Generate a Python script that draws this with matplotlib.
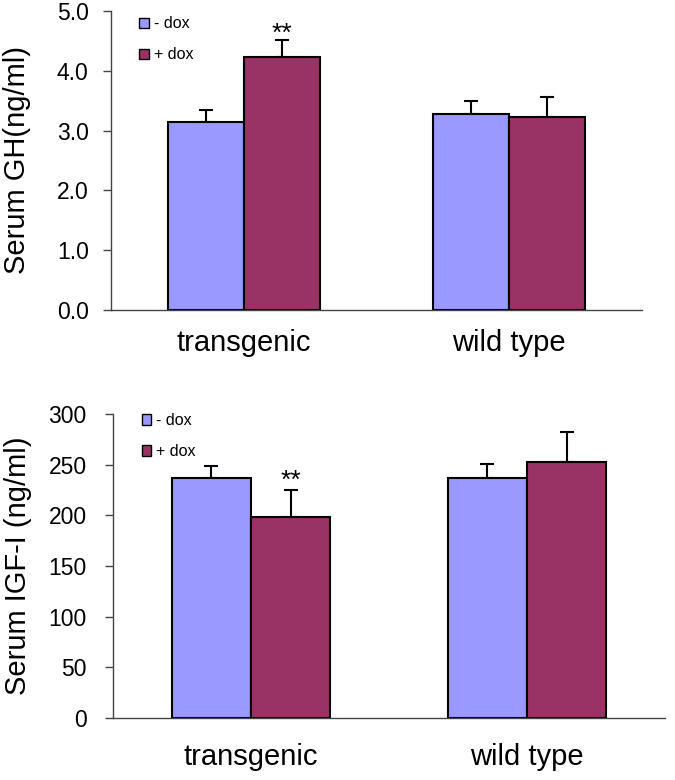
import matplotlib
matplotlib.use("Agg")
import matplotlib.pyplot as plt
import numpy as np
from matplotlib.patches import Patch

plt.rcParams['font.family'] = ['Liberation Sans', 'DejaVu Sans']

groups = ["transgenic", "wild type"]
series = ["- dox", "+ dox"]

gh_minus = [3.14, 3.28]
gh_minus_err = [0.20, 0.21]
gh_plus = [4.23, 3.23]
gh_plus_err = [0.29, 0.33]

igf_minus = [236.5, 236.5]
igf_minus_err = [12, 14]
igf_plus = [198.7, 252.6]
igf_plus_err = [26, 30]

gh_ticks = [0.0, 1.0, 2.0, 3.0, 4.0, 5.0]
igf_ticks = [0, 50, 100, 150, 200, 250, 300]

c_minus = "#9999FF"
c_plus = "#993366"

fig = plt.figure(figsize=(6.75, 7.8), dpi=100)
ax1 = fig.add_axes([0.1644, 0.6026, 0.7867, 0.3833])
ax2 = fig.add_axes([0.1674, 0.0795, 0.8178, 0.3897])

def panel(ax, minus, minus_err, plus, plus_err, ticks, ylim, fmt, ylabel,
          star_idx, star_off, ytick_pad, xpad, label_x, leg_anchor):
    x = np.arange(len(groups))
    w = 0.287
    ax.bar(x - w/2, minus, w, color=c_minus, edgecolor="black", linewidth=1.5, zorder=2)
    ax.bar(x + w/2, plus, w, color=c_plus, edgecolor="black", linewidth=1.5, zorder=2)
    ax.errorbar(x - w/2, minus, yerr=[np.zeros(len(minus)), minus_err], fmt="none",
                ecolor="black", elinewidth=1.5, capsize=5, capthick=1.5, zorder=1)
    ax.errorbar(x + w/2, plus, yerr=[np.zeros(len(plus)), plus_err], fmt="none",
                ecolor="black", elinewidth=1.5, capsize=5, capthick=1.5, zorder=1)
    ax.text(x[star_idx] + w/2, plus[star_idx] + plus_err[star_idx] + star_off, "**",
            ha="center", va="center", fontsize=19)
    ax.set_xlim(-0.5, 1.5)
    ax.set_ylim(*ylim)
    ax.set_yticks(ticks)
    ax.set_yticklabels([fmt.format(t) for t in ticks], fontsize=16.5)
    ax.set_xticks(x)
    ax.set_xticklabels(groups, fontsize=21)
    ax.tick_params(axis="x", length=0, pad=xpad)
    ax.tick_params(axis="y", length=6, width=1, color="#444444", pad=ytick_pad)
    for s in ["top", "right"]:
        ax.spines[s].set_visible(False)
    for s in ["left", "bottom"]:
        ax.spines[s].set_color("#444444")
        ax.spines[s].set_linewidth(1)
    ax.set_ylabel(ylabel, fontsize=21)
    ax.yaxis.set_label_coords(label_x, 0.5)
    handles = [Patch(facecolor=c_minus, edgecolor="black", linewidth=1),
               Patch(facecolor=c_plus, edgecolor="black", linewidth=1)]
    ax.legend(handles, series, loc="upper left", bbox_to_anchor=leg_anchor,
              frameon=False, fontsize=11.5, handlelength=0.6, handleheight=0.6,
              handletextpad=0.3, labelspacing=1.0)

panel(ax1, gh_minus, gh_minus_err, gh_plus, gh_plus_err, gh_ticks, (0, 5.0), "{:.1f}",
      "Serum GH(ng/ml)", 0, 0.10, 10, 14, -0.150, (0.026, 1.03))
panel(ax2, igf_minus, igf_minus_err, igf_plus, igf_plus_err, igf_ticks, (0, 300), "{:d}",
      "Serum IGF-I (ng/ml)", 0, 9, 13, 18, -0.146, (0.026, 1.05))

fig.savefig("out.png", dpi=100)
